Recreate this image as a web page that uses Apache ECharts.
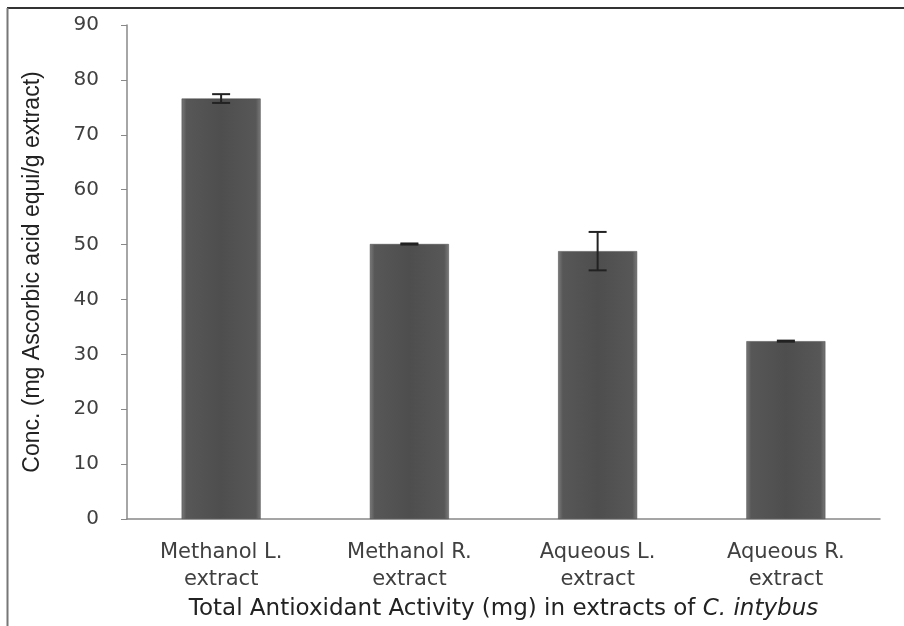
<!DOCTYPE html>
<html>
<head>
<meta charset="utf-8" />
<title>Total Antioxidant Activity</title>
<style>
  html, body { margin: 0; padding: 0; background: #fff; }
  #chart { width: 904px; height: 626px; }
</style>
</head>
<body>
<div id="chart"></div>
<script src="https://cdn.jsdelivr.net/npm/echarts@6/dist/echarts.min.js"></script>
<script>
const categories = ['Methanol L.\nextract', 'Methanol R.\nextract', 'Aqueous L.\nextract', 'Aqueous R.\nextract'];
const values = [76.6, 50.1, 48.8, 32.4];
const errors = [0.8, 0.1, 3.5, 0.1];

const chart = echarts.init(document.getElementById('chart'));

const barColor = new echarts.graphic.LinearGradient(0, 0, 1, 0, [
  { offset: 0, color: '#7a7a7a' },
  { offset: 0.06, color: '#575757' },
  { offset: 0.5, color: '#4e4e4e' },
  { offset: 0.94, color: '#575757' },
  { offset: 1, color: '#7a7a7a' }
]);

chart.setOption({
  animation: false,
  backgroundColor: '#fff',
  grid: { left: 127, right: 24, top: 25, bottom: 107, outerBoundsMode: 'none', containLabel: false },
  graphic: [
    { type: 'line', shape: { x1: 7, y1: 8, x2: 904, y2: 8 }, style: { stroke: '#333', lineWidth: 2 } },
    { type: 'line', shape: { x1: 7.5, y1: 8, x2: 7.5, y2: 626 }, style: { stroke: '#777', lineWidth: 2 } }
  ],
  xAxis: {
    type: 'category',
    data: categories,
    axisLine: { lineStyle: { color: '#888', width: 1.5 } },
    axisTick: { length: 8, lineStyle: { color: '#888' } },
    axisLabel: {
      color: '#404040', fontFamily: 'DejaVu Sans', fontSize: 21, lineHeight: 27, margin: 20
    },
    name: '{n|Total Antioxidant Activity (mg) in extracts of }{i|C. intybus}',
    nameLocation: 'middle',
    nameGap: 79,
    nameTextStyle: {
      rich: {
        n: { color: '#222', fontFamily: 'DejaVu Sans', fontSize: 23 },
        i: { color: '#222', fontFamily: 'DejaVu Sans', fontSize: 23, fontStyle: 'italic' }
      }
    }
  },
  yAxis: {
    type: 'value',
    min: 0,
    max: 90,
    interval: 10,
    splitLine: { show: false },
    axisLine: { show: true, lineStyle: { color: '#888', width: 1.5 } },
    axisTick: { show: true, length: 6, lineStyle: { color: '#888' } },
    axisLabel: { color: '#404040', fontFamily: 'DejaVu Sans', fontSize: 20, margin: 28 },
    name: 'Conc. (mg Ascorbic acid equi/g extract)',
    nameLocation: 'middle',
    nameGap: 83,
    nameTextStyle: { color: '#222', fontFamily: 'Liberation Sans', fontSize: 23 }
  },
  series: [
    {
      type: 'bar',
      data: values,
      barWidth: 79,
      itemStyle: { color: barColor, borderColor: '#444', borderWidth: 0.5 }
    },
    {
      type: 'custom',
      data: values.map((v, i) => [i, v - errors[i], v + errors[i]]),
      renderItem: function (params, api) {
        const lo = api.coord([api.value(0), api.value(1)]);
        const hi = api.coord([api.value(0), api.value(2)]);
        const half = 9;
        const style = { stroke: '#222', lineWidth: 2 };
        return {
          type: 'group',
          children: [
            { type: 'line', shape: { x1: lo[0], y1: lo[1], x2: hi[0], y2: hi[1] }, style },
            { type: 'line', shape: { x1: hi[0] - half, y1: hi[1], x2: hi[0] + half, y2: hi[1] }, style },
            { type: 'line', shape: { x1: lo[0] - half, y1: lo[1], x2: lo[0] + half, y2: lo[1] }, style }
          ]
        };
      },
      z: 10
    }
  ]
});
</script>
</body>
</html>
